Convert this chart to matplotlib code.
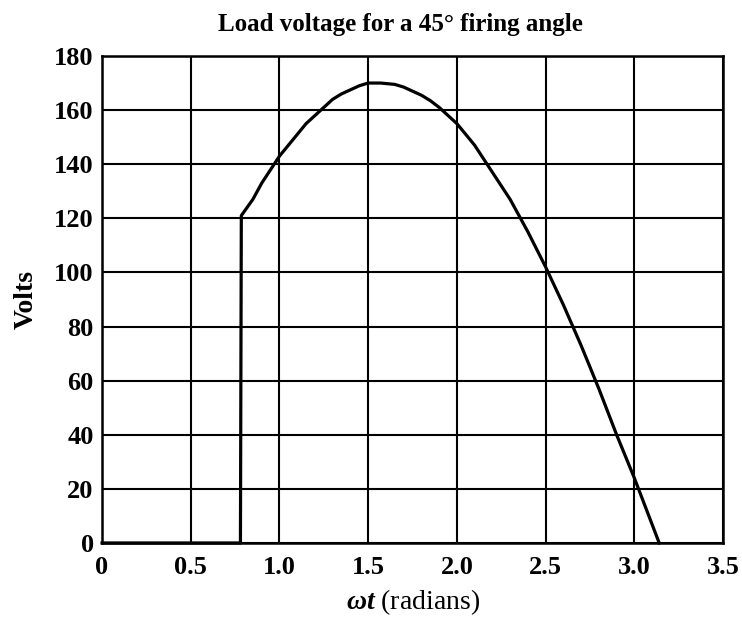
import matplotlib
matplotlib.use("Agg")
import matplotlib.pyplot as plt

plt.rcParams['font.family'] = ['Liberation Serif', 'DejaVu Serif']
plt.rcParams['mathtext.fontset'] = 'custom'
plt.rcParams['mathtext.it'] = 'Liberation Serif:italic:bold'
plt.rcParams['mathtext.rm'] = 'Liberation Serif'

# load voltage, half-wave with 45 degree firing angle
wt = [0.0, 0.78, 0.785, 0.85, 0.9, 0.95, 1.0, 1.05, 1.1, 1.15, 1.2, 1.25,
      1.3, 1.35, 1.4, 1.45, 1.5, 1.57, 1.65, 1.7, 1.75, 1.8, 1.85, 1.9,
      1.95, 2.0, 2.05, 2.1, 2.2, 2.3, 2.4, 2.5, 2.6, 2.7, 2.8, 2.9, 3.0, 3.14]
volts = [0, 0, 121, 127, 133, 138, 143, 147, 151, 155, 158, 161,
         164, 166, 167.5, 169, 170, 170, 169.5, 168.5, 167, 165.5, 163.5, 161,
         158, 155, 151, 147, 137, 127, 115, 102, 88, 73, 57, 40, 24, 0]

xticks = [0, 0.5, 1.0, 1.5, 2.0, 2.5, 3.0, 3.5]
xlabels = ['0', '0.5', '1.0', '1.5', '2.0', '2.5', '3.0', '3.5']
yticks = list(range(0, 181, 20))

fig = plt.figure(figsize=(7.42, 6.18), dpi=100)
ax = fig.add_axes([0.1375, 0.1214, 0.837, 0.788])

ax.plot(wt, volts, color='black', lw=2.3, zorder=3, clip_on=False,
        solid_joinstyle='round')

ax.set_xlim(0, 3.5)
ax.set_ylim(0, 180)
ax.set_xticks(xticks)
ax.set_xticklabels(xlabels)
ax.set_yticks(yticks)
ax.grid(True, color='black', lw=1.5)
ax.tick_params(axis='y', length=0, labelsize=19, pad=6)
ax.tick_params(axis='x', length=0, labelsize=19, pad=9.5)
for lbl in ax.get_xticklabels() + ax.get_yticklabels():
    lbl.set_fontweight('bold')
for s in ax.spines.values():
    s.set_linewidth(1.8)

ax.set_title('Load voltage for a 45° firing angle', fontsize=18,
             fontweight='bold', pad=18, x=0.48)
ax.set_xlabel(r'$\omega t$ (radians)', fontsize=20, labelpad=6)
ax.set_ylabel('Volts', fontsize=20, fontweight='bold', labelpad=11)

fig.savefig('out.png', dpi=100)
